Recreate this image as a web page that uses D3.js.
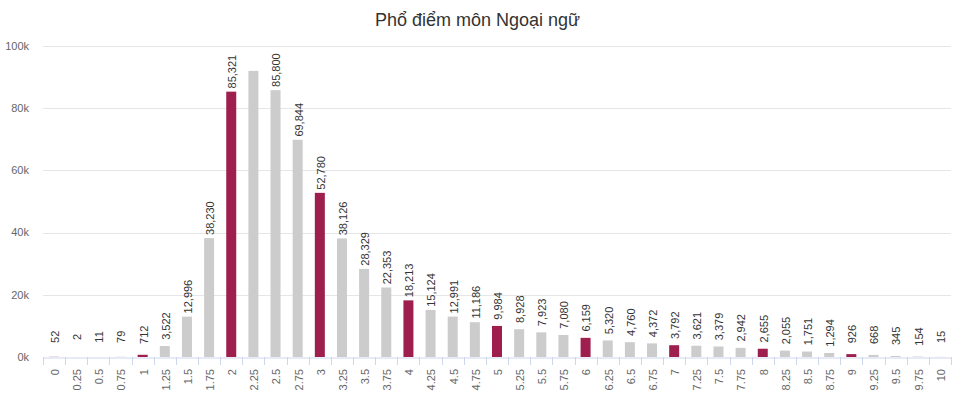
<!DOCTYPE html>
<html>
<head>
<meta charset="utf-8">
<script src="https://cdn.jsdelivr.net/npm/d3@7"></script>
<style>
  html, body { margin: 0; padding: 0; background: #fff; }
  svg { display: block; font-family: Arial, "Liberation Sans", sans-serif; }
</style>
</head>
<body>
<svg id="chart" width="955" height="401"></svg>
<script>
const title = "Phổ điểm môn Ngoại ngữ";
const categories = ["0","0.25","0.5","0.75","1","1.25","1.5","1.75","2","2.25","2.5","2.75","3","3.25","3.5","3.75","4","4.25","4.5","4.75","5","5.25","5.5","5.75","6","6.25","6.5","6.75","7","7.25","7.5","7.75","8","8.25","8.5","8.75","9","9.25","9.5","9.75","10"];
const counts = [52,2,11,79,712,3522,12996,38230,85321,92000,85800,69844,52780,38126,28329,22353,18213,15124,12991,11186,9984,8928,7923,7080,6159,5320,4760,4372,3792,3621,3379,2942,2655,2055,1751,1294,926,668,345,154,15];
const yTicks = [0,20000,40000,60000,80000,100000];
const yTickLabels = ["0k","20k","40k","60k","80k","100k"];

const svg = d3.select("#chart");
const margin = {left: 43, right: 4, top: 46, bottom: 44};
const W = 955, H = 401;
const plotL = margin.left, plotR = W - margin.right, plotT = margin.top, plotB = H - margin.bottom;

const x = d3.scaleBand().domain(categories).range([plotL, plotR]).paddingInner(0).paddingOuter(0);
const y = d3.scaleLinear().domain([0, 100000]).range([plotB, plotT]);
const barW = 10;
const fmt = d3.format(",");

// title
svg.append("text").attr("x", W / 2).attr("y", 26).attr("text-anchor", "middle")
  .attr("font-size", 18).attr("fill", "#333").text(title);

// gridlines
svg.append("g").selectAll("line").data(yTicks.filter(d => d > 0)).join("line")
  .attr("x1", plotL).attr("x2", plotR)
  .attr("y1", d => Math.round(y(d)) + 0.5).attr("y2", d => Math.round(y(d)) + 0.5)
  .attr("stroke", "#e6e6e6").attr("stroke-width", 1);

// y labels
svg.append("g").selectAll("text").data(yTicks).join("text")
  .attr("x", 29).attr("y", d => y(d)).attr("dy", "0.35em")
  .attr("text-anchor", "end").attr("font-size", 11).attr("fill", "#666")
  .text((d, i) => yTickLabels[i]);

// bars
const isInt = c => Number.isInteger(+c);
svg.append("g").selectAll("rect").data(categories).join("rect")
  .attr("x", c => x(c) + x.bandwidth() / 2 - barW / 2)
  .attr("y", (c, i) => y(counts[i]))
  .attr("width", barW)
  .attr("height", (c, i) => plotB - y(counts[i]))
  .attr("fill", c => isInt(c) ? "#9e1f4e" : "#cccccc");

// x axis
const xAxis = d3.axisBottom(x).tickSize(0).tickFormat("");
const gx = svg.append("g").attr("transform", `translate(0,${plotB + 0.5})`).call(xAxis);
gx.select(".domain").attr("stroke", "#ccd6eb");
const bounds = categories.map(c => x(c)).concat([plotR]);
svg.append("g").selectAll("line").data(bounds).join("line")
  .attr("x1", d => Math.round(d) + 0.5).attr("x2", d => Math.round(d) + 0.5)
  .attr("y1", plotB).attr("y2", plotB + 8)
  .attr("stroke", "#ccd6eb");

svg.append("g").selectAll("text").data(categories).join("text")
  .attr("transform", c => `translate(${x(c) + x.bandwidth() / 2 + 1},${plotB + 12}) rotate(-90)`)
  .attr("dy", "0.35em").attr("text-anchor", "end")
  .attr("font-size", 11).attr("fill", "#666").text(c => c);

// data labels
const labels = svg.append("g");
categories.forEach((c, i) => {
  const cy = y(counts[i]) - 20;
  const t = labels.append("text")
    .attr("transform", `translate(${x(c) + x.bandwidth() / 2 + 1},${cy}) rotate(-90)`)
    .attr("dy", "0.35em").attr("text-anchor", "middle")
    .attr("font-size", 11).attr("fill", "#333")
    .text(fmt(counts[i]));
  const len = t.node().getComputedTextLength();
  if (cy - len / 2 < plotT) t.remove();
});
</script>
</body>
</html>
